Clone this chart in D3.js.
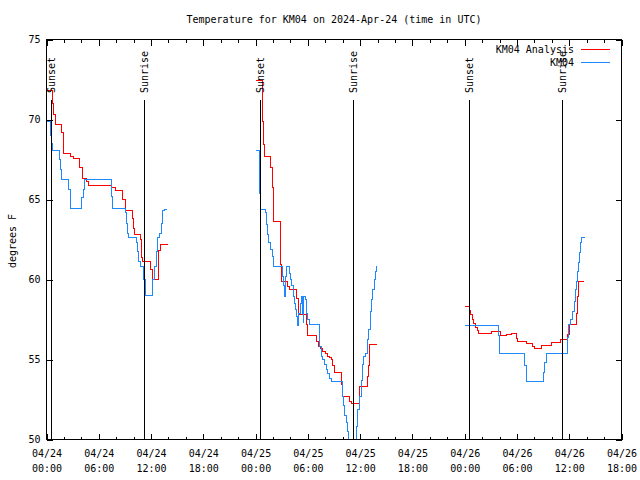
<!DOCTYPE html>
<html>
<head>
<meta charset="utf-8">
<script src="https://cdn.jsdelivr.net/npm/d3@7"></script>
<style>
  html, body { margin: 0; padding: 0; background: #ffffff; }
  svg { display: block; }
  text { font-family: "DejaVu Sans Mono", "Liberation Mono", monospace; font-size: 10px; fill: #000; }
</style>
</head>
<body>
<svg id="chart" width="640" height="480"></svg>
<script>
// ---------------- data (hours after 2024-04-24 00:00 UTC, degrees F) ----------------
const titleText = "Temperature for KM04 on 2024-Apr-24 (time in UTC)";
const yLabelText = "degrees F";
const seriesNames = ["KM04 Analysis", "KM04"];
const seriesColors = ["#ff0000", "#1e88ff"];

const analysisDay1 = [[0,71.8],[0.69,71.0],[0.86,70.3],[1.0,69.7],[1.76,69.2],[1.99,67.9],[2.79,67.7],[3.1,67.56],
  [3.75,67.0],[4.1,66.3],[4.63,66.1],[4.86,65.85],[7.5,65.77],[7.89,65.56],[8.78,65.0],[9.07,64.3],[9.84,63.8],
  [9.95,63.2],[10.07,62.8],[10.76,62.5],[10.9,61.4],[11.05,61.15],[11.9,60.6],[12.13,60.0],[12.86,61.8],
  [13.05,62.2],[13.89,62.2]];
const analysisDay2 = [[24.0,72.46],[24.79,69.9],[24.92,68.44],[25.07,67.67],[25.75,66.98],[25.94,65.73],[26.1,63.64],
  [26.86,60.94],[26.98,59.9],[27.66,59.58],[27.85,59.4],[28.75,58.8],[28.96,57.8],[29.8,57.2],[29.97,56.5],
  [30.95,56.1],[31.2,55.83],[31.45,55.7],[31.72,55.5],[32.0,55.35],[32.29,55.2],[32.5,55.1],[32.68,55.0],
  [32.85,54.6],[33.0,54.17],[33.87,53.44],[33.95,52.7],[34.78,52.4],[34.98,52.25],[35.87,52.7],[35.95,53.33],
  [36.8,53.96],[36.92,54.6],[37.08,55.94],[37.91,55.94]];
const analysisDay3 = [[48.0,58.29],[48.5,58.05],[48.68,57.8],[48.86,57.5],[49.05,57.25],[49.25,57.0],[49.45,56.8],
  [49.63,56.65],[49.79,56.6],[51.04,56.73],[52.08,56.5],[52.77,56.56],[53.34,56.6],[53.91,56.3],[54.1,56.1],
  [55.06,55.98],[55.8,55.8],[56.0,55.69],[56.85,55.9],[57.93,56.04],[58.96,56.25],[59.84,56.56],[60.03,57.2],
  [60.8,57.9],[60.98,58.96],[61.1,59.9],[61.75,59.9]];

const obsDay1 = [[0,69.85],[0.5,69.0],[0.6,68.5],[0.72,68.06],[1.49,67.5],[1.6,66.9],[1.75,66.25],[2.56,65.6],
  [2.72,64.44],[4.05,65.1],[4.2,65.6],[4.4,66.25],[7.43,65.8],[7.5,65.2],[7.6,64.44],[9.07,64.17],[9.15,63.5],
  [9.3,62.9],[9.4,62.6],[10.35,62.3],[10.45,61.77],[10.6,61.1],[10.75,60.8],[11.15,60.0],[11.35,59.0],
  [12.2,60.0],[12.4,60.8],[12.6,61.77],[12.78,62.6],[12.97,62.9],[13.16,63.5],[13.35,64.3],[13.54,64.4],[13.85,64.4]];
const obsDay2 = [[24.0,68.06],[24.5,65.4],[24.6,64.4],[25.1,64.17],[25.2,63.44],[25.35,62.8],[25.53,62.3],[25.7,61.9],
  [25.9,61.46],[26.1,60.8],[27.05,60.2],[27.17,59.6],[27.3,58.96],[27.45,60.2],[27.55,60.8],[27.9,60.4],[28.0,60.0],
  [28.12,59.6],[28.3,58.96],[28.5,58.5],[28.6,58.1],[28.7,57.7],[28.82,57.1],[28.98,57.9],[29.1,58.5],[29.25,58.96],
  [29.33,57.9],[29.45,57.3],[29.55,58.96],[29.7,58.75],[29.82,57.9],[29.98,57.5],[30.17,57.2],[31.33,55.83],
  [31.52,55.2],[31.7,55.0],[31.9,54.7],[32.1,54.4],[32.3,54.1],[32.5,53.8],[32.68,53.6],[33.94,52.7],[34.1,52.1],
  [34.25,51.5],[34.4,51.04],[34.6,50.5],[34.7,49.5],[35.55,50.8],[35.73,51.9],[35.93,52.7],[36.1,53.7],[36.24,54.7],
  [36.38,55.2],[36.6,55.4],[36.88,56.25],[37.0,56.9],[37.15,58.0],[37.3,58.75],[37.45,59.4],[37.6,60.0],[37.76,60.5],
  [37.91,60.83]];
const obsDay3 = [[48.0,57.15],[51.92,56.5],[52.05,55.4],[54.85,54.6],[55.06,53.6],[57.03,54.2],[57.2,54.8],[57.4,55.4],
  [59.8,56.4],[59.95,57.2],[60.2,57.5],[60.35,58.0],[60.55,58.6],[60.7,59.4],[60.8,59.9],[60.95,60.5],[61.1,61.04],
  [61.22,61.67],[61.33,62.3],[61.45,62.6],[61.83,62.6]];

const eventLabels = ["Sunset", "Sunrise", "Sunset", "Sunrise", "Sunset", "Sunrise"];
const eventHours = [0.52, 11.17, 24.5, 35.16, 48.5, 59.15];

const yTicks = [50, 55, 60, 65, 70, 75];
const xMajorHours = [0, 6, 12, 18, 24, 30, 36, 42, 48, 54, 60, 66];
const xMinorHours = [2, 4, 8, 10, 14, 16, 20, 22, 26, 28, 32, 34, 38, 40, 44, 46, 50, 52, 56, 58, 62, 64];

// ---------------- chart ----------------
const baseMs = Date.UTC(2024, 3, 24, 0, 0);
const toDate = h => new Date(baseMs + h * 3600000);

const pL = 46.5, pR = 621.5, pT = 39.5, pB = 439.5;
const svg = d3.select("#chart");

const x = d3.scaleUtc().domain([toDate(0), toDate(66)]).range([pL, pR]);
const y = d3.scaleLinear().domain([50, 75]).range([pB, pT]);

svg.append("defs").append("clipPath").attr("id", "plotclip")
  .append("rect").attr("x", pL).attr("y", pT).attr("width", pR - pL).attr("height", pB - pT);

// title
svg.append("text").attr("x", (pL + pR) / 2).attr("y", 19).attr("dy", "0.35em")
  .attr("text-anchor", "middle").text(titleText);

// y label
svg.append("text").attr("transform", "translate(12,241) rotate(-90)")
  .attr("text-anchor", "middle").attr("dy", "0.35em").text(yLabelText);

// axes
function styleAxis(g) {
  g.select(".domain").remove();
  g.selectAll(".tick line").attr("stroke", "#000").attr("shape-rendering", "crispEdges");
  g.selectAll("text").attr("fill", "#000");
  g.attr("font-family", null).attr("font-size", null);
}

const gLeft = svg.append("g").attr("transform", `translate(${pL},0)`)
  .call(d3.axisLeft(y).tickValues(yTicks).tickSize(-6).tickPadding(7).tickFormat(d3.format("d")));
styleAxis(gLeft);
gLeft.selectAll(".tick text").attr("x", -6);

const gRight = svg.append("g").attr("transform", `translate(${pR},0)`)
  .call(d3.axisRight(y).tickValues(yTicks).tickSize(-6).tickFormat(""));
styleAxis(gRight);

const gBottom = svg.append("g").attr("transform", `translate(0,${pB})`)
  .call(d3.axisBottom(x).tickValues(xMajorHours.map(toDate)).tickSize(-6).tickFormat(d3.utcFormat("%m/%d")));
styleAxis(gBottom);
const fmtDate = d3.utcFormat("%m/%d"), fmtTime = d3.utcFormat("%H:%M");
gBottom.selectAll(".tick text").each(function(d) {
  const t = d3.select(this);
  t.text(null).attr("y", null).attr("dy", null);
  t.append("tspan").attr("x", 0).attr("y", 17.5).text(fmtDate(d));
  t.append("tspan").attr("x", 0).attr("y", 32).text(fmtTime(d));
});
const gBottomMinor = svg.append("g").attr("transform", `translate(0,${pB})`)
  .call(d3.axisBottom(x).tickValues(xMinorHours.map(toDate)).tickSize(-3).tickFormat(""));
styleAxis(gBottomMinor);

const gTop = svg.append("g").attr("transform", `translate(0,${pT})`)
  .call(d3.axisTop(x).tickValues(xMajorHours.map(toDate)).tickSize(-6).tickFormat(""));
styleAxis(gTop);
const gTopMinor = svg.append("g").attr("transform", `translate(0,${pT})`)
  .call(d3.axisTop(x).tickValues(xMinorHours.map(toDate)).tickSize(-3).tickFormat(""));
styleAxis(gTopMinor);

// data lines
const line = d3.line().x(d => x(toDate(d[0]))).y(d => y(d[1])).curve(d3.curveStepAfter);
const dataG = svg.append("g").attr("clip-path", "url(#plotclip)");
const series = [
  { color: seriesColors[0], segs: [analysisDay1, analysisDay2, analysisDay3] },
  { color: seriesColors[1], segs: [obsDay1, obsDay2, obsDay3] }
];
series.forEach(s => {
  s.segs.forEach(seg => {
    dataG.append("path").attr("d", line(seg)).attr("fill", "none")
      .attr("stroke", s.color).attr("stroke-width", 1).attr("shape-rendering", "crispEdges");
  });
});

// sunrise / sunset markers
const evG = svg.append("g");
eventHours.forEach((h, i) => {
  const ex = Math.round(x(toDate(h))) + 0.5;
  const yTop = pB - 0.85 * (pB - pT);
  evG.append("line").attr("x1", ex).attr("x2", ex).attr("y1", pB).attr("y2", yTop)
    .attr("stroke", "#000").attr("stroke-width", 1).attr("shape-rendering", "crispEdges");
  const ly = pB - 0.866 * (pB - pT);
  evG.append("text").attr("transform", `translate(${ex},${ly}) rotate(-90)`)
    .attr("text-anchor", "start").attr("dy", "0.35em").text(eventLabels[i]);
});

// border
svg.append("rect").attr("x", pL).attr("y", pT).attr("width", pR - pL).attr("height", pB - pT)
  .attr("fill", "none").attr("stroke", "#000").attr("stroke-width", 1).attr("shape-rendering", "crispEdges");

// legend
const legendY = [49.5, 62.5];
seriesNames.forEach((name, i) => {
  svg.append("text").attr("x", 574).attr("y", legendY[i]).attr("dy", "0.35em")
    .attr("text-anchor", "end").text(name);
  svg.append("line").attr("x1", 581).attr("x2", 610).attr("y1", legendY[i]).attr("y2", legendY[i])
    .attr("stroke", seriesColors[i]).attr("stroke-width", 1).attr("shape-rendering", "crispEdges");
});
</script>
</body>
</html>
